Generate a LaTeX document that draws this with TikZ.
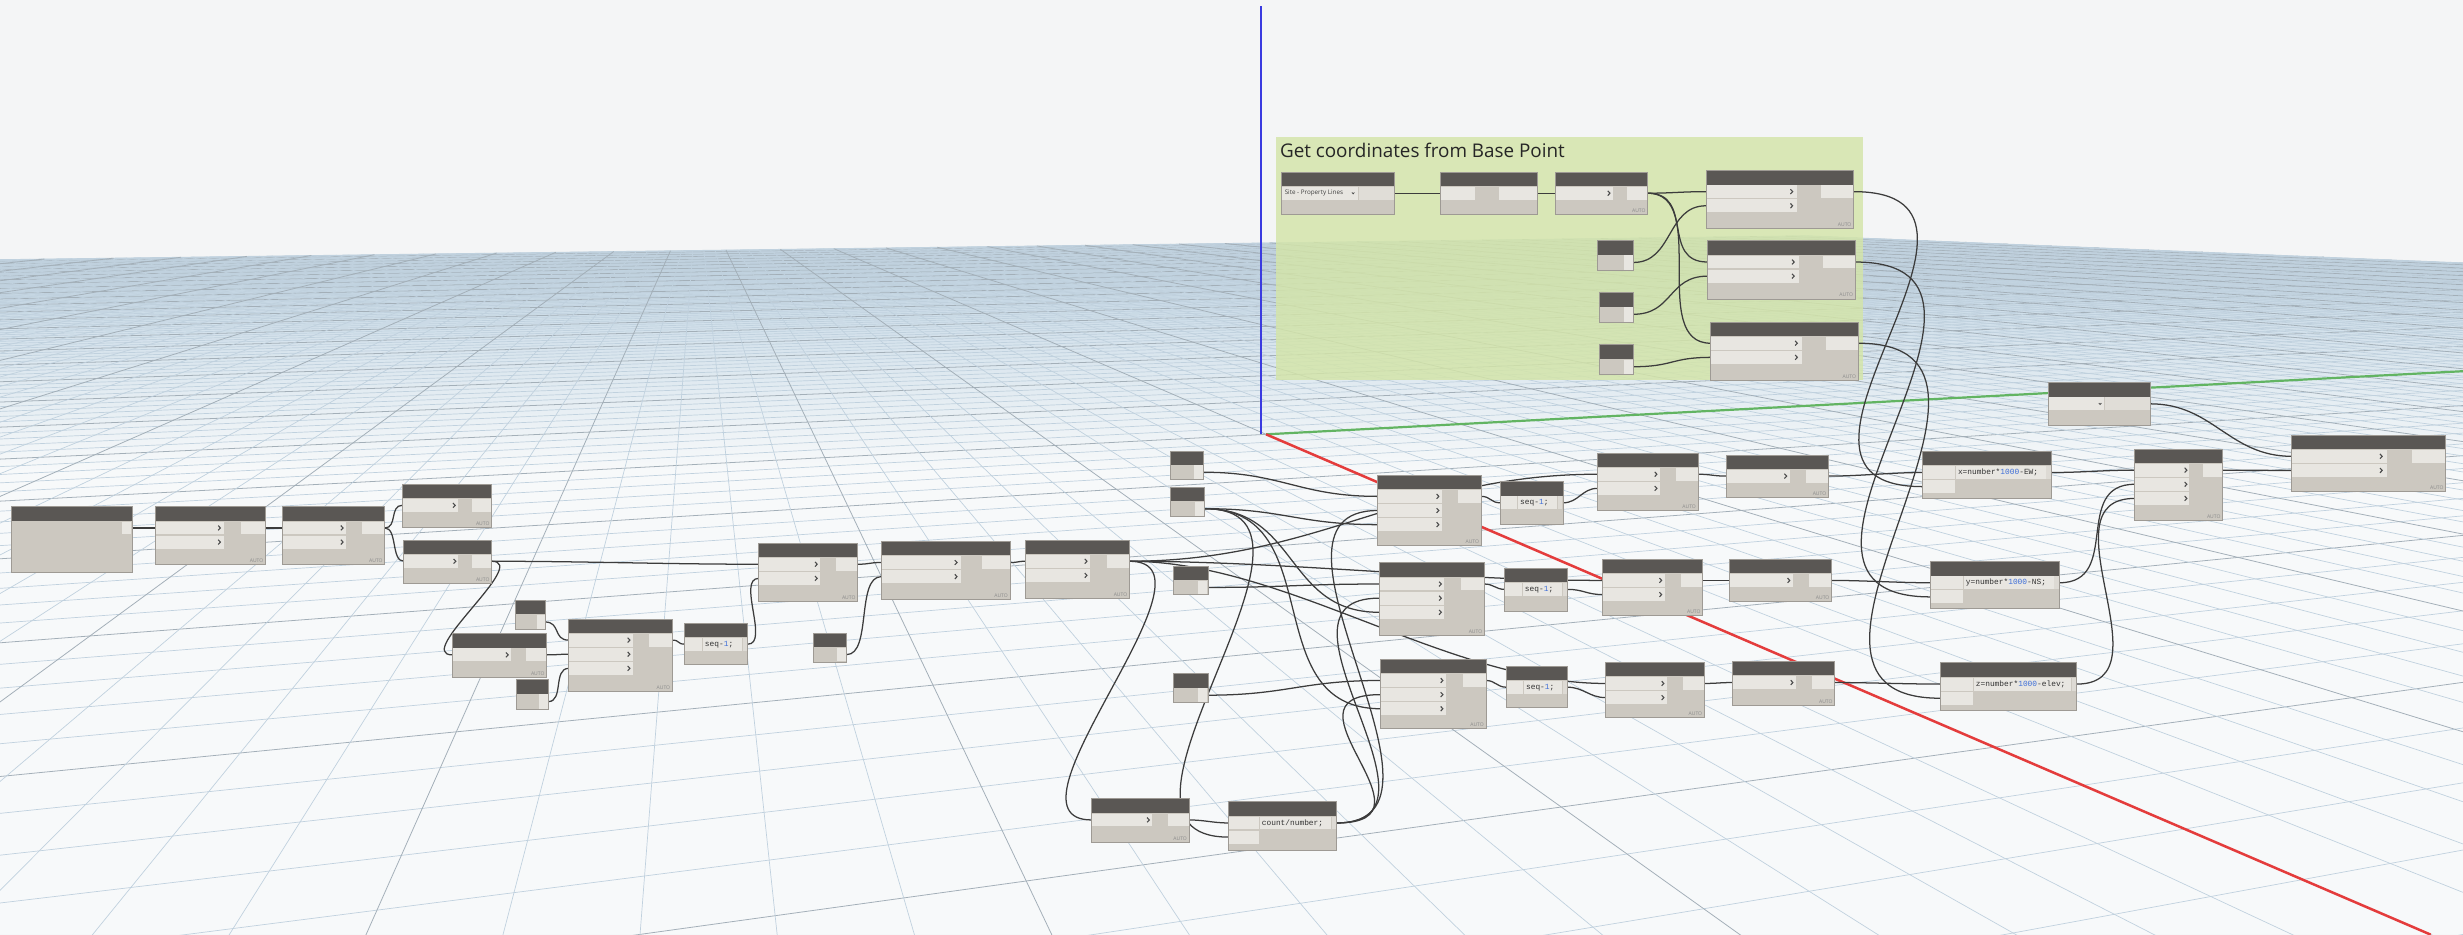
\documentclass[tikz,border=0pt]{standalone}
\usepackage{fontspec}
\setmainfont{Open Sans}
\setmonofont{Liberation Mono}
\definecolor{sky}{HTML}{F4F5F6}
\definecolor{ground}{HTML}{F7F9FA}
\definecolor{gtint}{HTML}{BCD2E2}
\definecolor{gmin}{HTML}{C0D1DE}
\definecolor{gmaj}{HTML}{A3AFB8}
\definecolor{hdrc}{HTML}{5A5754}
\definecolor{bodyc}{HTML}{CCC8C0}
\definecolor{fldc}{HTML}{E8E6E1}
\definecolor{nbdc}{HTML}{9E9A94}
\definecolor{wirec}{HTML}{3C3C3C}
\definecolor{grpc}{HTML}{D4E5A8}
\definecolor{codeblue}{HTML}{3F6FD8}
\definecolor{axred}{HTML}{E43C3C}
\definecolor{axgreen}{HTML}{62B462}
\definecolor{axblue}{HTML}{3A3AE0}
\pgfdeclarelayer{bg}
\pgfdeclarelayer{wl}
\pgfsetlayers{bg,wl,main}
\tikzset{
  nbox/.style={rectangle,fill=bodyc,draw=none,inner sep=0pt,outer sep=0pt},
  nbd/.style={draw=nbdc,line width=0.25pt},
  chev/.style={draw=black!70,line width=0.35pt},
  autot/.style={inner sep=0pt,font=\fontsize{1.6}{2}\selectfont,text=black!45},
  codet/.style={inner sep=0pt,font=\fontsize{2.5}{3}\ttfamily,text=black!80},
  wire/.style={draw=wirec,line width=0.4pt},
  gminl/.style={draw=gmin,line width=0.22pt},
  gmajl/.style={draw=gmaj,line width=0.25pt}
}
% standard node: name,x,y,w,h,#inputs
\newcommand{\dnode}[6]{%
\node[nbox,minimum width=#4*0.5pt,minimum height=#5*0.5pt] (#1) at (#2+#4/2,#3+#5/2) {};
\fill[hdrc] (#2,#3) rectangle ++(#4,9);
\ifnum#6>0
\foreach \k in {1,...,#6}{%
\fill[fldc] (#2+0.3,#3+9.4+9*\k-9) rectangle (#2+0.62*#4,#3+17.6+9*\k-9);
\draw[chev] (#2+0.58*#4-0.7,#3+12+9*\k-9) -- (#2+0.58*#4+0.7,#3+13.5+9*\k-9) -- (#2+0.58*#4-0.7,#3+15+9*\k-9);
\coordinate (#1-\k) at (#2,#3+13.5+9*\k-9);}%
\fi
\fill[fldc] (#2+0.78*#4,#3+9.4) rectangle (#2+#4-0.3,#3+17.6);
\coordinate (#1-o) at (#2+#4,#3+13.5);
\node[autot,anchor=south east] at (#2+#4-1,#3+#5-0.8) {AUTO};
\draw[nbd] (#2,#3) rectangle ++(#4,#5);
}
% node with no input
\newcommand{\bignode}[5]{%
\node[nbox,minimum width=#4*0.5pt,minimum height=#5*0.5pt] (#1) at (#2+#4/2,#3+#5/2) {};
\fill[hdrc] (#2,#3) rectangle ++(#4,9);
\fill[fldc] (#2+#4-6.5,#3+9.4) rectangle (#2+#4-0.3,#3+17.6);
\coordinate (#1-o) at (#2+#4,#3+13.5);
\draw[nbd] (#2,#3) rectangle ++(#4,#5);
}
% plain node, one input without chevron
\newcommand{\pnode}[5]{%
\node[nbox,minimum width=#4*0.5pt,minimum height=#5*0.5pt] (#1) at (#2+#4/2,#3+#5/2) {};
\fill[hdrc] (#2,#3) rectangle ++(#4,9);
\fill[fldc] (#2+0.3,#3+9.4) rectangle (#2+0.36*#4,#3+17.6);
\fill[fldc] (#2+0.6*#4,#3+9.4) rectangle (#2+#4-0.3,#3+17.6);
\coordinate (#1-1) at (#2,#3+13.5);
\coordinate (#1-o) at (#2+#4,#3+13.5);
\draw[nbd] (#2,#3) rectangle ++(#4,#5);
}
% small number node
\newcommand{\snode}[5]{%
\node[nbox,minimum width=#4*0.5pt,minimum height=#5*0.5pt] (#1) at (#2+#4/2,#3+#5/2) {};
\fill[hdrc] (#2,#3) rectangle ++(#4,#5*0.48);
\fill[fldc] (#2+0.72*#4,#3+#5*0.48+0.4) rectangle (#2+#4-0.3,#3+#5-0.3);
\coordinate (#1-o) at (#2+#4,#3+#5*0.74);
\draw[nbd] (#2,#3) rectangle ++(#4,#5);
}
% dropdown node: name,x,y,w,h,fieldfrac,text
\newcommand{\ddnode}[7]{%
\node[nbox,minimum width=#4*0.5pt,minimum height=#5*0.5pt] (#1) at (#2+#4/2,#3+#5/2) {};
\fill[hdrc] (#2,#3) rectangle ++(#4,9);
\fill[fldc] (#2+0.3,#3+9.4) rectangle (#2+#6*#4,#3+17.6);
\fill[fldc!70!bodyc] (#2+#6*#4+0.6,#3+9.4) rectangle (#2+#4-0.3,#3+17.6);
\node[inner sep=0pt,anchor=west,font=\fontsize{2}{2.4}\selectfont,text=black!75] at (#2+1.5,#3+13.5) {#7};
\draw[chev,line width=0.25pt] (#2+#6*#4-3.6,#3+13) -- (#2+#6*#4-2.8,#3+13.9) -- (#2+#6*#4-2,#3+13);
\coordinate (#1-o) at (#2+#4,#3+13.5);
\draw[nbd] (#2,#3) rectangle ++(#4,#5);
}
% code block: name,x,y,w,h,#inputs,inputfrac,code
\newcommand{\cnode}[8]{%
\node[nbox,minimum width=#4*0.5pt,minimum height=#5*0.5pt] (#1) at (#2+#4/2,#3+#5/2) {};
\fill[hdrc] (#2,#3) rectangle ++(#4,9);
\foreach \k in {1,...,#6}{%
\fill[fldc] (#2+0.3,#3+9.4+9*\k-9) rectangle (#2+#7*#4,#3+17.6+9*\k-9);
\coordinate (#1-\k) at (#2,#3+13.5+9*\k-9);}%
\fill[fldc] (#2+#7*#4+0.8,#3+9.4) rectangle (#2+#4-3.6,#3+17.6);
\fill[fldc!60!bodyc] (#2+#4-3.2,#3+9.4) rectangle (#2+#4-0.3,#3+17.6);
\node[codet,anchor=west] at (#2+#7*#4+1.6,#3+13.6) {#8};
\coordinate (#1-o) at (#2+#4,#3+13.5);
\draw[nbd] (#2,#3) rectangle ++(#4,#5);
}
\newcommand{\wire}[3]{\draw[wire] (#2) .. controls +(#1,0) and +(-#1,0) .. (#3);}

\begin{document}
\begin{tikzpicture}[x=0.5pt,y=-0.5pt]
\useasboundingbox (0,0) rectangle (1568,595);
% ---------------- background and perspective grid
\begin{pgfonlayer}{bg}
\begin{scope}
\clip (0,0) rectangle (1568,595);
\fill[sky] (0,0) rectangle (1568,595);
\fill[ground] (0,165.2) -- (1150.1,150.1) -- (1568,167.3) -- (1568,595) -- (0,595) -- cycle;
\shade[top color=gtint,bottom color=ground] (0,165.2) -- (1150.1,150.1) -- (1568,167.3) -- (1568,300) -- (0,300) -- cycle;
\foreach \v in {-25,...,113}{%
 \pgfmathsetmacro\q{\v*0.02807}
 \pgfmathsetmacro\pa{(-1006-644*\q)/4085}
 \pgfmathsetmacro\da{1+\pa+\q}
 \pgfmathsetmacro\xa{(806+3885*\pa+444*\q)/\da}
 \pgfmathsetmacro\ya{(276.5+114*\pa+121*\q)/\da}
 \pgfmathsetmacro\db{1.9447+\q}
 \pgfmathsetmacro\xb{(806+3885*0.9447+444*\q)/\db}
 \pgfmathsetmacro\yb{(276.5+114*0.9447+121*\q)/\db}
 \pgfmathtruncatemacro\mj{mod(abs(\v),5)==0 ? 1 : 0}
 \ifnum\mj=1 \draw[gmajl] (\xa,\ya) -- (\xb,\yb); \else \draw[gminl] (\xa,\ya) -- (\xb,\yb); \fi
}
\foreach \u in {-113,...,113}{%
 \pgfmathsetmacro\p{\u*0.00836}
 \pgfmathsetmacro\qa{(-424-586*\p)/579}
 \pgfmathsetmacro\da{1+\p+\qa}
 \pgfmathsetmacro\xa{(806+3885*\p+444*\qa)/\da}
 \pgfmathsetmacro\ya{(276.5+114*\p+121*\qa)/\da}
 \pgfmathsetmacro\db{1+\p+3.172}
 \pgfmathsetmacro\xb{(806+3885*\p+444*3.172)/\db}
 \pgfmathsetmacro\yb{(276.5+114*\p+121*3.172)/\db}
 \pgfmathtruncatemacro\mj{mod(abs(\u),5)==0 ? 1 : 0}
 \ifnum\mj=1 \draw[gmajl] (\xa,\ya) -- (\xb,\yb); \else \draw[gminl] (\xa,\ya) -- (\xb,\yb); \fi
}
% axes
\draw[axblue,line width=0.55pt] (803,4) -- (803,276.5);
\draw[axgreen,line width=0.7pt] (806,276.5) -- (1568,236.3);
\draw[axred,line width=0.8pt] (806,276.5) -- (1547.4,595);
\end{scope}
% group
\fill[grpc,opacity=0.82] (812,87.5) rectangle (1186,241.7);
\node[anchor=west,inner sep=0pt,font=\fontsize{6}{7}\selectfont,text=black!85] (title) at (814.5,96) {Get coordinates from Base Point};
\end{pgfonlayer}
% ---------------- nodes
\bignode{N1}{7}{322.6}{77}{41.7}
\dnode{N2}{99}{322.6}{70}{37}{2}
\dnode{N3}{180}{322.6}{65}{37}{2}
\dnode{N4}{256}{308.2}{57}{27.3}{1}
\dnode{N5}{257}{343.8}{56}{27.4}{1}
\dnode{N6}{288}{403.4}{60}{28}{1}
\snode{S1}{328}{382.2}{19}{18.6}
\snode{S2}{329}{432.6}{20}{19}
\dnode{N8}{362}{394}{66}{46}{3}
\cnode{SQ}{436}{396.6}{40}{26.5}{1}{0.27}{seq-\textcolor{codeblue}{1};}
\dnode{N9}{483}{345.7}{63}{37}{2}
\snode{S3}{518}{403.4}{21}{18}
\dnode{N10}{561}{344.6}{82}{37}{2}
\dnode{N11}{653}{343.8}{66}{37}{2}
\snode{S4}{745}{287.3}{21}{18}
\snode{S5}{745}{310}{22}{18.7}
\snode{S6}{747}{360.5}{22}{18.2}
\snode{S7}{747}{428.8}{22}{18.6}
\dnode{A1}{877}{302.5}{66}{45}{3}
\dnode{A2}{878}{358.3}{67}{46}{3}
\dnode{A3}{879}{419.7}{67}{44}{3}
\cnode{B1}{955}{306.6}{40}{27.4}{1}{0.27}{seq-\textcolor{codeblue}{1};}
\cnode{B2}{958}{361.7}{40}{27.7}{1}{0.27}{seq-\textcolor{codeblue}{1};}
\cnode{B3}{959}{424}{39}{26.5}{1}{0.27}{seq-\textcolor{codeblue}{1};}
\dnode{C1}{1017}{288.4}{64}{36.5}{2}
\dnode{C2}{1020}{356}{64}{36}{2}
\dnode{C3}{1022}{421.6}{63}{35}{2}
\dnode{D1}{1099}{289.6}{65}{27}{1}
\dnode{D2}{1101}{356}{65}{27}{1}
\dnode{D3}{1103}{421}{65}{28}{1}
\cnode{E1}{1224}{287.3}{82}{30}{2}{0.25}{x=number*\textcolor{codeblue}{1000}-EW;}
\cnode{E2}{1229}{357.5}{82}{30}{2}{0.25}{y=number*\textcolor{codeblue}{1000}-NS;}
\cnode{E3}{1235}{422}{87}{30}{2}{0.24}{z=number*\textcolor{codeblue}{1000}-elev;}
\dnode{F}{1359}{285.8}{56}{45.5}{3}
\ddnode{G}{1304}{243.6}{65}{27}{0.55}{}
\dnode{H}{1459}{277}{98}{36}{2}
\dnode{P}{695}{508.5}{62}{27.7}{1}
\cnode{Q}{782}{510.4}{69}{31}{2}{0.28}{count/number;}
\ddnode{T1}{816}{109.5}{72}{27}{0.67}{Site - Property Lines}
\pnode{T2}{917}{109.5}{62}{27}
\dnode{T3}{990}{109.5}{59}{27}{1}
\dnode{U1}{1086}{108.5}{94}{37}{2}
\dnode{U2}{1087}{153.3}{94}{37}{2}
\dnode{U3}{1089}{205}{94}{37}{2}
\snode{V1}{1017}{153.3}{23}{18.6}
\snode{V2}{1018}{186}{22}{19}
\snode{V3}{1018}{219.4}{22}{19}
% ---------------- wires (under the nodes)
\begin{pgfonlayer}{wl}
\wire{8}{N1-o}{N2-1}
\wire{8}{N2-o}{N3-1}
\wire{8}{N3-o}{N4-1}
\wire{8}{N3-o}{N5-1}
\wire{60}{N5-o}{N9-1}
\wire{25}{N5-o}{N6-1}
\wire{10}{S1-o}{N8-1}
\wire{8}{N6-o}{N8-2}
\wire{10}{S2-o}{N8-3}
\wire{5}{N8-o}{SQ-1}
\wire{14}{SQ-o}{N9-2}
\wire{8}{N9-o}{N10-1}
\wire{16}{S3-o}{N10-2}
\wire{6}{N10-o}{N11-1}
\wire{120}{N11-o}{C1-1}
\wire{100}{N11-o}{C2-1}
\wire{100}{N11-o}{C3-1}
\wire{65}{N11-o}{P-1}
\wire{10}{P-o}{Q-1}
\wire{100}{S5-o}{Q-2}
\wire{50}{S4-o}{A1-1}
\wire{50}{S6-o}{A2-1}
\wire{50}{S7-o}{A3-1}
\wire{50}{S5-o}{A1-3}
\wire{60}{S5-o}{A2-3}
\wire{80}{S5-o}{A3-3}
\wire{90}{Q-o}{A1-2}
\wire{80}{Q-o}{A2-2}
\wire{70}{Q-o}{A3-2}
\wire{6}{A1-o}{B1-1}
\wire{6}{A2-o}{B2-1}
\wire{6}{A3-o}{B3-1}
\wire{10}{B1-o}{C1-2}
\wire{10}{B2-o}{C2-2}
\wire{10}{B3-o}{C3-2}
\wire{8}{C1-o}{D1-1}
\wire{8}{C2-o}{D2-1}
\wire{8}{C3-o}{D3-1}
\wire{20}{D1-o}{E1-1}
\wire{20}{D2-o}{E2-1}
\wire{20}{D3-o}{E3-1}
\wire{120}{U1-o}{E1-2}
\wire{130}{U2-o}{E2-2}
\wire{130}{U3-o}{E3-2}
\wire{20}{E1-o}{F-1}
\wire{40}{E2-o}{F-2}
\wire{60}{E3-o}{F-3}
\wire{15}{F-o}{H-2}
\wire{40}{G-o}{H-1}
\wire{10}{T1-o}{T2-1}
\wire{5}{T2-o}{T3-1}
\wire{15}{T3-o}{U1-1}
\wire{30}{T3-o}{U2-1}
\wire{40}{T3-o}{U3-1}
\wire{25}{V1-o}{U1-2}
\wire{25}{V2-o}{U2-2}
\wire{25}{V3-o}{U3-2}
\end{pgfonlayer}
\end{tikzpicture}
\end{document}
